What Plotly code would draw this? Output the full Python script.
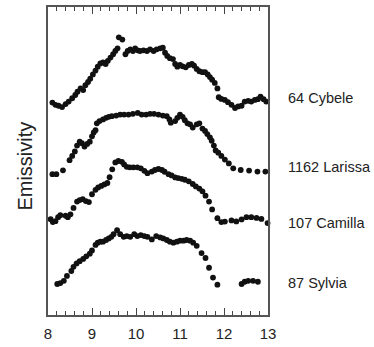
import plotly.graph_objects as go

# Wavelength (micrometres) and offset relative emissivity (arbitrary stacked units)
cybele_wl = [8.10, 8.17, 8.24, 8.32, 8.40, 8.47, 8.55, 8.62, 8.67, 8.74, 8.80, 8.85, 8.91, 8.96,
             9.02, 9.08, 9.13, 9.19, 9.25, 9.31, 9.36, 9.42, 9.48, 9.53, 9.58, 9.61, 9.69, 9.76,
             9.81, 9.87, 9.93, 9.98, 10.04, 10.09, 10.17, 10.25, 10.32, 10.40, 10.47, 10.55, 10.61,
             10.66, 10.71, 10.77, 10.84, 10.89, 10.94, 11.00, 11.06, 11.13, 11.20, 11.27, 11.32,
             11.38, 11.44, 11.51, 11.57, 11.63, 11.68, 11.73, 11.79, 11.85, 11.88, 11.94, 12.02,
             12.09, 12.17, 12.25, 12.32, 12.40, 12.47, 12.55, 12.62, 12.70, 12.77, 12.83, 12.90, 12.96]
cybele_em = [217.3, 215, 214, 212.7, 215.7, 218.3, 221.7, 225, 228.3, 231.7, 230, 235, 238.3, 241.7,
             246, 250, 254, 257.3, 258.3, 256.7, 260, 263.3, 266.7, 270, 272.7, 284, 281.7, 266.7,
             270, 271.7, 270, 272.7, 270.7, 270, 270.7, 270, 271.7, 270, 271.7, 272.7, 273.3,
             268.3, 265, 262.7, 261.7, 256.7, 254, 255.7, 254.3, 253.3, 255.7, 256.7, 255,
             251.7, 249.3, 248.3, 248.3, 246, 243.3, 240.7, 237.3, 231.7, 222.7, 221, 220,
             217.7, 215, 211.7, 213.3, 214, 218.3, 219, 218.3, 220, 220.7, 223.3, 220.7, 218.3]

larissa_wl = [8.10, 8.19, 8.34, 8.49, 8.55, 8.61, 8.66, 8.72, 8.77, 8.83, 8.89, 8.95, 9.00, 9.04,
              9.08, 9.11, 9.17, 9.25, 9.32, 9.38, 9.45, 9.55, 9.64, 9.73, 9.83, 9.93, 10.04, 10.13,
              10.23, 10.32, 10.41, 10.51, 10.61, 10.70, 10.76, 10.79, 10.89, 10.94, 11.00, 11.06,
              11.11, 11.17, 11.23, 11.29, 11.38, 11.44, 11.51, 11.57, 11.62, 11.68, 11.72, 11.77,
              11.81, 11.87, 11.94, 12.02, 12.11, 12.21, 12.38, 12.57, 12.76, 12.94]
larissa_em = [144, 144, 148, 158.3, 162.7, 167.3, 173.3, 177.3, 175.7, 172.3, 175, 177.3, 182.7, 186.7,
              189, 196, 198.3, 200, 201.7, 202.7, 203.3, 204, 205, 205, 205, 205.7, 206.7, 205,
              205, 205.7, 205.7, 205, 204, 203.3, 200, 196.7, 198.3, 201.7, 205, 202.7,
              199.3, 196, 195, 191.7, 195, 196, 190.7, 188.3, 185, 181.7, 178.3, 173.3,
              168.3, 166, 162.7, 159, 155, 150, 148.3, 147.7, 146.7, 146.7]

camilla_wl = [8.06, 8.11, 8.17, 8.23, 8.28, 8.40, 8.45, 8.51, 8.58, 8.66, 8.72, 8.79, 8.86, 8.93,
              9.00, 9.08, 9.14, 9.21, 9.28, 9.35, 9.40, 9.46, 9.53, 9.60, 9.68, 9.73, 9.79, 9.86,
              9.94, 10.03, 10.11, 10.19, 10.26, 10.36, 10.43, 10.51, 10.59, 10.65, 10.74, 10.81,
              10.89, 10.96, 11.04, 11.11, 11.20, 11.29, 11.36, 11.44, 11.51, 11.58, 11.66, 11.73,
              11.85, 11.94, 12.02, 12.17, 12.28, 12.40, 12.51, 12.62, 12.74, 12.85, 12.99]
camilla_em = [98, 95, 96, 100, 102, 101.5, 100, 103, 109.5, 116, 117.5, 118.5, 116.5, 115.5,
              123.5, 128, 130.5, 132, 133.5, 135, 141, 149, 156, 157.5, 156.7, 154, 151.5, 151,
              151, 151, 150, 147.5, 145, 146.7, 148.3, 149.3, 148.3, 146.5, 144, 142.7,
              140.7, 140, 139.3, 138.3, 136.7, 134, 131.5, 129.3, 126.5, 122, 116, 108,
              99, 95, 95.5, 96.7, 95.7, 97.7, 100, 100, 99.3, 98.3, 94]

sylvia_wl = [8.21, 8.28, 8.36, 8.43, 8.53, 8.58, 8.65, 8.72, 8.80, 8.87, 8.95, 9.00, 9.08, 9.13,
             9.19, 9.25, 9.32, 9.38, 9.44, 9.49, 9.57, 9.64, 9.72, 9.79, 9.87, 9.96, 10.03, 10.11,
             10.19, 10.26, 10.36, 10.46, 10.55, 10.62, 10.70, 10.77, 10.85, 10.93, 11.00, 11.08,
             11.15, 11.23, 11.30, 11.38, 11.49, 11.58, 11.66, 11.75, 11.85, 12.40, 12.47, 12.55,
             12.66, 12.77]
sylvia_em = [31.7, 32.7, 35, 40, 45, 49.3, 52.7, 55, 57.3, 60, 62.7, 66, 71.7, 74,
             75, 75, 76.7, 78.3, 80, 82.7, 86.7, 82.7, 80, 80.7, 80, 82.7, 80.7, 81.7,
             80.7, 80, 77.3, 80.7, 79.3, 78.3, 76.7, 75, 74, 75, 76, 76,
             76.7, 76, 74, 70.7, 63.3, 58.3, 48.3, 38.3, 31, 31.7, 34, 35,
             35, 34]

names = ["64 Cybele", "1162 Larissa", "107 Camilla", "87 Sylvia"]
label_y = [222, 151, 94, 33]
x_ticks = [8, 9, 10, 11, 12, 13]

series = [(cybele_wl, cybele_em), (larissa_wl, larissa_em),
          (camilla_wl, camilla_em), (sylvia_wl, sylvia_em)]

fig = go.Figure()
for (wl, em), nm in zip(series, names):
    fig.add_trace(go.Scatter(x=wl, y=em, mode="markers", name=nm,
                             marker=dict(size=5.8, color="#111111"),
                             cliponaxis=False, showlegend=False))

for nm, ly in zip(names, label_y):
    fig.add_annotation(x=1.08, xref="paper", y=ly, yref="y", text=nm,
                       showarrow=False, xanchor="left", yanchor="middle",
                       font=dict(family="Liberation Sans, Arial, sans-serif", size=14.5, color="#222222"))

fig.add_annotation(x=-0.106, xref="paper", y=0.484, yref="paper", text="Emissivity",
                   textangle=-90, showarrow=False, xanchor="center", yanchor="middle",
                   font=dict(family="Liberation Sans, Arial, sans-serif", size=20, color="#222222"))

fig.update_layout(
    width=374, height=347,
    margin=dict(l=47.5, r=105.7, t=5, b=27),
    paper_bgcolor="white", plot_bgcolor="white",
    font=dict(family="Liberation Sans, Arial, sans-serif", color="#222222"),
    xaxis=dict(range=[8, 13], tickvals=x_ticks, ticktext=[str(t) for t in x_ticks],
               ticks="inside", ticklen=7, tickwidth=1.2, tickcolor="#444444",
               minor=dict(dtick=0.2, ticks="inside", ticklen=4, tickwidth=1, tickcolor="#444444", showgrid=False),
               showline=True, linecolor="#555555", linewidth=1.5, mirror="allticks",
               showgrid=False, zeroline=False, ticklabelstandoff=4,
               tickfont=dict(size=15, color="#222222")),
    yaxis=dict(range=[0, 315], showticklabels=False, ticks="",
               showline=True, linecolor="#555555", linewidth=1.5, mirror=True,
               showgrid=False, zeroline=False),
)

fig.write_html("out.html")
